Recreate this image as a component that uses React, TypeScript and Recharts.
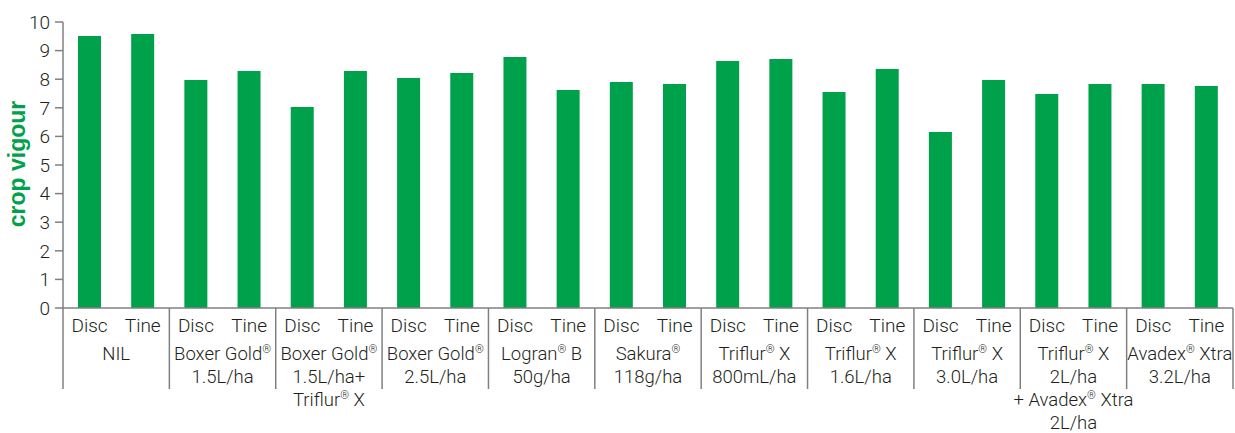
import React from 'react';
import { BarChart, Bar, XAxis, YAxis } from 'recharts';

const tools = ['Disc', 'Tine'];

const groupLabels: string[][] = [
  ['NIL'],
  ['Boxer Gold®', '1.5L/ha'],
  ['Boxer Gold®', '1.5L/ha+', 'Triflur® X'],
  ['Boxer Gold®', '2.5L/ha'],
  ['Logran® B', '50g/ha'],
  ['Sakura®', '118g/ha'],
  ['Triflur® X', '800mL/ha'],
  ['Triflur® X', '1.6L/ha'],
  ['Triflur® X', '3.0L/ha'],
  ['Triflur® X', '2L/ha', '+ Avadex® Xtra', '2L/ha'],
  ['Avadex® Xtra', '3.2L/ha'],
];

const discValues = [9.51, 7.97, 7.03, 8.04, 8.78, 7.9, 8.64, 7.55, 6.15, 7.48, 7.83];
const tineValues = [9.58, 8.29, 8.29, 8.22, 7.62, 7.83, 8.71, 8.36, 7.97, 7.83, 7.76];

const yTicks = [0, 1, 2, 3, 4, 5, 6, 7, 8, 9, 10];

const data = groupLabels.flatMap((g, i) => [
  { key: `${i}-d`, tool: tools[0], group: i, vigour: discValues[i] },
  { key: `${i}-t`, tool: tools[1], group: i, vigour: tineValues[i] },
]);

const GREEN = '#00a14b';
const TEXT = '#231f20';
const AXIS = '#808080';
const FONT = 'Roboto, "Liberation Sans", sans-serif';

// splits on ® so the mark can be drawn small and raised
const renderReg = (line: string) => {
  const parts = line.split('®');
  const out: React.ReactNode[] = [];
  parts.forEach((p, i) => {
    if (i > 0) {
      out.push(
        <tspan key={`r${i}`} fontSize={11} dy={-7}>®</tspan>
      );
      out.push(<tspan key={`p${i}`} dy={7}>{p}</tspan>);
    } else {
      out.push(<tspan key={`p${i}`}>{p}</tspan>);
    }
  });
  return out;
};

const lineOffsets = [52, 75, 98, 120.5];

const XTick = (props: any) => {
  const { x, y, payload, index } = props;
  const half = payload && payload.offset ? payload.offset : 26.6;
  const row = data[index];
  const isFirst = index % 2 === 0;
  const isLast = index === data.length - 1;
  const lines = groupLabels[row.group];
  return (
    <g>
      <text
        x={x}
        y={y + 24}
        textAnchor="middle"
        fontSize={19}
        fontFamily={FONT}
        fontWeight={300}
        fill={TEXT}
      >
        {row.tool}
      </text>
      {isFirst && (
        <line x1={x - half} x2={x - half} y1={y} y2={y + 81} stroke={AXIS} strokeWidth={1.5} />
      )}
      {isLast && (
        <line x1={x + half} x2={x + half} y1={y} y2={y + 81} stroke={AXIS} strokeWidth={1.5} />
      )}
      {isFirst &&
        lines.map((l, i) => (
          <text
            key={i}
            x={x + half}
            y={y + lineOffsets[i]}
            textAnchor="middle"
            fontSize={18.5}
            fontFamily={FONT}
            fontWeight={300}
            fill={TEXT}
          >
            {renderReg(l)}
          </text>
        ))}
    </g>
  );
};

const YLabel = () => (
  <text
    x={25}
    y={164}
    transform="rotate(-90, 25, 164)"
    textAnchor="middle"
    fontSize={23}
    fontWeight="bold"
    fontFamily='"Liberation Sans", Arial, sans-serif'
    fill={GREEN}
  >
    crop vigour
  </text>
);

export default function App() {
  return (
    <div style={{ position: 'absolute', left: 0, top: 0, background: '#fff' }}>
      <BarChart
        width={1235}
        height={433}
        data={data}
        margin={{ top: 22, right: 2, bottom: 0, left: 0 }}
        barSize={23}
      >
        <XAxis
          dataKey="key"
          interval={0}
          height={125}
          tickLine={false}
          tickSize={0}
          tickMargin={0}
          axisLine={{ stroke: AXIS, strokeWidth: 1.5 }}
          tick={<XTick />}
        />
        <YAxis
          width={63}
          domain={[0, 10]}
          ticks={yTicks}
          interval={0}
          tickSize={8}
          tickMargin={5}
          axisLine={{ stroke: AXIS, strokeWidth: 1.5 }}
          tickLine={{ stroke: AXIS, strokeWidth: 1.5 }}
          tick={{ fontSize: 19, fill: TEXT, fontFamily: FONT, fontWeight: 300 }}
          label={<YLabel />}
        />
        <Bar dataKey="vigour" fill={GREEN} isAnimationActive={false} />
      </BarChart>
    </div>
  );
}
